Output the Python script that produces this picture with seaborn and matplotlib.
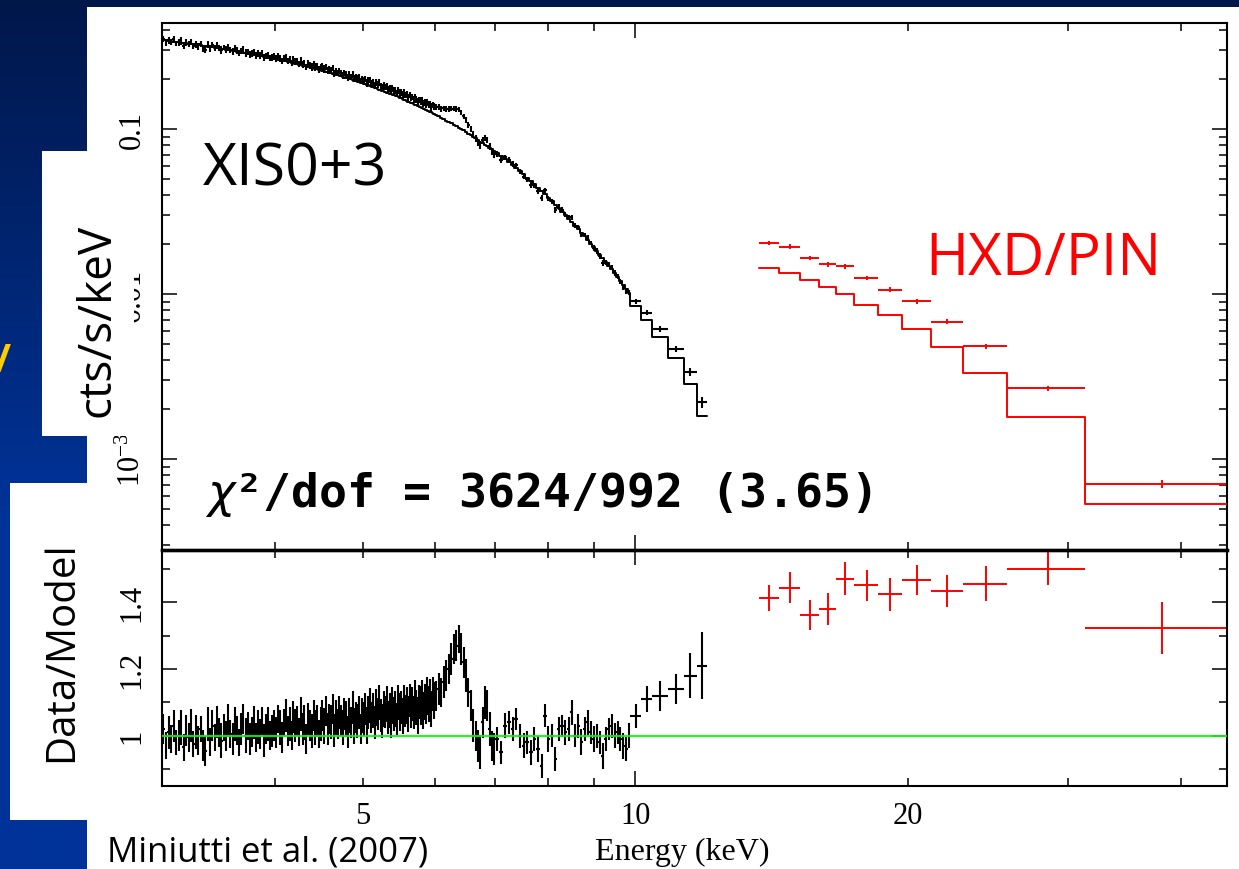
import numpy as np
import matplotlib
matplotlib.use("Agg")
import matplotlib.pyplot as plt
import seaborn as sns
from matplotlib.patches import Rectangle
from matplotlib.ticker import FixedLocator, FixedFormatter, FuncFormatter, NullFormatter

# ---------------------------------------------------------------- data
# XIS0+3 channel bin edges (keV)
xis_edges = [
    3.00, 3.02, 3.04, 3.06, 3.08, 3.10, 3.12, 3.14, 3.16, 3.18,
    3.20, 3.22, 3.24, 3.26, 3.28, 3.30, 3.32, 3.34, 3.36, 3.38,
    3.40, 3.42, 3.44, 3.46, 3.48, 3.50, 3.52, 3.54, 3.56, 3.58,
    3.60, 3.62, 3.64, 3.66, 3.68, 3.70, 3.72, 3.74, 3.76, 3.78,
    3.80, 3.82, 3.84, 3.86, 3.88, 3.90, 3.92, 3.94, 3.96, 3.98,
    4.00, 4.02, 4.04, 4.06, 4.08, 4.10, 4.12, 4.14, 4.16, 4.18,
    4.20, 4.22, 4.24, 4.26, 4.28, 4.30, 4.32, 4.34, 4.36, 4.38,
    4.40, 4.42, 4.44, 4.46, 4.48, 4.50, 4.52, 4.54, 4.56, 4.58,
    4.60, 4.62, 4.64, 4.66, 4.68, 4.70, 4.72, 4.74, 4.76, 4.78,
    4.80, 4.82, 4.84, 4.86, 4.88, 4.90, 4.92, 4.94, 4.96, 4.98,
    5.00, 5.02, 5.04, 5.06, 5.08, 5.10, 5.12, 5.14, 5.16, 5.18,
    5.20, 5.22, 5.24, 5.26, 5.28, 5.30, 5.32, 5.34, 5.36, 5.38,
    5.40, 5.42, 5.44, 5.46, 5.48, 5.50, 5.52, 5.54, 5.56, 5.58,
    5.60, 5.62, 5.64, 5.66, 5.68, 5.70, 5.72, 5.74, 5.76, 5.78,
    5.80, 5.82, 5.84, 5.86, 5.88, 5.90, 5.92, 5.94, 5.96, 5.98,
    6.00, 6.04, 6.08, 6.12, 6.16, 6.20, 6.24, 6.28, 6.32, 6.36,
    6.40, 6.44, 6.48, 6.52, 6.56, 6.60, 6.64, 6.68, 6.72, 6.76,
    6.80, 6.84, 6.88, 6.92, 6.96,
    7.00, 7.07, 7.14, 7.21, 7.28, 7.35, 7.42, 7.49, 7.56, 7.63,
    7.70, 7.77, 7.84, 7.91, 7.98, 8.05, 8.12, 8.19, 8.26, 8.33,
    8.40, 8.47, 8.54, 8.61, 8.68, 8.75, 8.82, 8.89, 8.96, 9.03,
    9.10, 9.17, 9.24, 9.31, 9.38, 9.45, 9.52, 9.59, 9.66, 9.73,
    9.80, 9.87, 10.15, 10.44, 10.85, 11.30, 11.70, 12.00,
]

# XIS0+3 folded model, log10(cts/s/keV), one per bin
xis_model_log = [
    -0.461, -0.463, -0.466, -0.468, -0.470, -0.472, -0.474, -0.477, -0.479, -0.481,
    -0.483, -0.485, -0.488, -0.490, -0.492, -0.494, -0.496, -0.499, -0.501, -0.503,
    -0.505, -0.507, -0.510, -0.512, -0.514,
    -0.516, -0.519, -0.521, -0.523, -0.526, -0.528, -0.531, -0.533, -0.535, -0.538,
    -0.540, -0.543, -0.545, -0.547, -0.550, -0.552, -0.555, -0.557, -0.559, -0.562,
    -0.564, -0.567, -0.569, -0.571, -0.574,
    -0.576, -0.579, -0.582, -0.585, -0.588, -0.590, -0.593, -0.596, -0.599, -0.602,
    -0.604, -0.607, -0.610, -0.613, -0.616, -0.618, -0.621, -0.624, -0.627, -0.630,
    -0.632, -0.635, -0.638, -0.641, -0.644,
    -0.647, -0.650, -0.653, -0.656, -0.659, -0.662, -0.666, -0.669, -0.672, -0.675,
    -0.678, -0.681, -0.685, -0.688, -0.691, -0.694, -0.697, -0.700, -0.704, -0.707,
    -0.710, -0.713, -0.716, -0.719, -0.722,
    -0.726, -0.729, -0.733, -0.736, -0.740, -0.743, -0.747, -0.750, -0.754, -0.757,
    -0.761, -0.765, -0.768, -0.772, -0.775, -0.779, -0.782, -0.786, -0.789, -0.793,
    -0.796, -0.800, -0.803, -0.807, -0.810,
    -0.814, -0.818, -0.822, -0.826, -0.830, -0.834, -0.838, -0.841, -0.845, -0.849,
    -0.853, -0.857, -0.861, -0.865, -0.869, -0.873, -0.877, -0.881, -0.885, -0.888,
    -0.892, -0.896, -0.900, -0.904, -0.908,
    -0.914, -0.923, -0.932, -0.940, -0.949, -0.958, -0.966, -0.975, -0.983, -0.992,
    -1.001, -1.009, -1.018, -1.028, -1.037, -1.047, -1.056, -1.066, -1.076, -1.085,
    -1.095, -1.104, -1.114, -1.124, -1.133,
    -1.147, -1.165, -1.184, -1.202, -1.220, -1.238, -1.256, -1.275, -1.296, -1.316,
    -1.336, -1.357, -1.377, -1.397, -1.418, -1.439, -1.460, -1.481, -1.502, -1.523,
    -1.544, -1.565, -1.586, -1.608, -1.630, -1.651, -1.673, -1.695, -1.717, -1.739,
    -1.761, -1.784, -1.806, -1.828, -1.851, -1.873, -1.897, -1.921, -1.944, -1.968,
    -1.992,
    -2.070, -2.158, -2.261, -2.388, -2.545, -2.739,
]

# XIS0+3 data / model ratio, one per bin
xis_ratio = [
    1.02, 0.97, 1.01, 0.99, 1.03, 0.98, 1.00, 1.025, 0.965, 1.015,
    0.995, 1.03, 0.975, 1.01, 0.985, 1.02, 0.97, 0.955, 1.035, 0.98,
    1.03, 0.995, 1.04, 1.01, 0.985, 1.025, 1.0, 1.045, 1.005, 0.99,
    1.035, 1.015, 0.98, 1.02, 1.05, 1.0, 1.03, 0.99, 1.01, 1.04,
    0.995, 1.025, 1.005, 1.045, 0.985, 1.02, 1.035, 1.0, 1.015, 1.03,
    1.01, 1.05, 1.025, 0.995, 1.04, 1.06, 1.015, 1.035, 1.0, 1.055,
    1.03, 1.045, 1.01, 1.065, 1.02, 1.04, 0.99, 1.05, 1.03, 1.015,
    1.06, 1.025, 1.045, 1.005, 1.035,
    1.06, 1.03, 1.075, 1.02, 1.05, 1.04, 1.08, 1.015, 1.055, 1.035,
    1.07, 1.045, 1.025, 1.065, 1.05, 1.01, 1.06, 1.04, 1.085, 1.03,
    1.055, 1.045, 1.07, 1.02, 1.06,
    1.05, 1.08, 1.03, 1.07, 1.09, 1.055, 1.075, 1.04, 1.085, 1.065,
    1.1, 1.06, 1.045, 1.08, 1.07, 1.095, 1.055, 1.075, 1.04, 1.09,
    1.065, 1.08, 1.05, 1.1, 1.07,
    1.085, 1.06, 1.1, 1.075, 1.09, 1.065, 1.105, 1.08, 1.095, 1.07,
    1.11, 1.085, 1.06, 1.1, 1.09, 1.115, 1.075, 1.1, 1.085, 1.12,
    1.095, 1.11, 1.08, 1.125, 1.105,
    1.12, 1.14, 1.13, 1.16, 1.18, 1.20, 1.23, 1.26, 1.27, 1.29,
    1.26, 1.22, 1.18, 1.13, 1.09, 1.03, 1.0, 0.97, 0.95, 1.04,
    1.10, 1.09, 1.02, 0.97, 0.96,
    0.99, 0.95, 1.03, 1.04, 1.02, 1.05, 1.0, 0.97, 0.98, 0.95,
    0.99, 0.96, 0.91, 1.06, 0.99, 1.0, 0.93, 1.02, 1.03, 1.01,
    1.02, 1.07, 1.0, 1.03, 0.98, 1.02, 1.04, 1.01, 0.99, 1.0,
    0.98, 0.94, 0.99, 1.02, 1.03, 1.0, 1.01, 0.99, 0.97, 0.96,
    1.0,
    1.06, 1.11, 1.12, 1.14, 1.18, 1.21,
]

# 1-sigma error on the XIS ratio, one per bin
xis_ratio_err = [
    0.045, 0.040, 0.050, 0.042, 0.048, 0.038, 0.046, 0.052, 0.041, 0.047,
    0.043, 0.049, 0.040, 0.051, 0.044, 0.039, 0.047, 0.045, 0.050, 0.042,
    0.046, 0.041, 0.048, 0.044, 0.052, 0.040, 0.045, 0.049, 0.043, 0.047,
    0.050, 0.044, 0.041, 0.048, 0.046, 0.053, 0.042, 0.047, 0.045, 0.049,
    0.044, 0.051, 0.046, 0.042, 0.049, 0.045, 0.050, 0.043, 0.048, 0.046,
    0.047, 0.043, 0.052, 0.046, 0.041, 0.049, 0.045, 0.051, 0.044, 0.048,
    0.049, 0.045, 0.042, 0.050, 0.047, 0.053, 0.044, 0.048, 0.046, 0.051,
    0.046, 0.052, 0.048, 0.043, 0.050, 0.047, 0.054, 0.045, 0.049, 0.044,
    0.051, 0.046, 0.049, 0.053, 0.045, 0.050, 0.047, 0.052, 0.048, 0.055,
    0.048, 0.053, 0.046, 0.050, 0.054, 0.047, 0.051, 0.049, 0.045, 0.052,
    0.050, 0.047, 0.055, 0.049, 0.052, 0.046, 0.053, 0.050, 0.056, 0.048,
    0.053, 0.049, 0.051, 0.055, 0.048, 0.054, 0.050, 0.052, 0.047, 0.056,
    0.051, 0.055, 0.049, 0.053, 0.057, 0.050, 0.054, 0.052, 0.048, 0.055,
    0.054, 0.050, 0.056, 0.052, 0.049, 0.057, 0.053, 0.055, 0.051, 0.058,
    0.052, 0.056, 0.054, 0.050, 0.057, 0.053, 0.059, 0.055, 0.051, 0.056,
    0.045, 0.047, 0.043, 0.048, 0.046, 0.044, 0.049, 0.045, 0.047, 0.043,
    0.048, 0.046, 0.050, 0.044, 0.047, 0.049, 0.045, 0.048, 0.051, 0.046,
    0.049, 0.047, 0.050, 0.045, 0.048,
    0.036, 0.034, 0.038, 0.035, 0.037, 0.033, 0.036, 0.038, 0.034, 0.037,
    0.035, 0.039, 0.036, 0.034, 0.038, 0.035, 0.037, 0.036, 0.033, 0.038,
    0.035, 0.037, 0.034, 0.036, 0.039, 0.035, 0.037, 0.034, 0.038, 0.036,
    0.035, 0.039, 0.037, 0.034, 0.036, 0.038, 0.035, 0.037, 0.039, 0.036,
    0.038,
    0.036, 0.040, 0.045, 0.045, 0.067, 0.100,
]

# HXD/PIN
pin_edges = [13.7, 14.42, 15.2, 15.94, 16.66, 17.45, 18.55, 19.67, 21.2, 23.0, 25.75, 31.35, 45.0]
pin_model = [0.01432, 0.01341, 0.01216, 0.01099, 0.0100, 0.00861, 0.00746,
             0.00614, 0.00475, 0.00331, 0.00179, 0.000533]
pin_ratio = [1.414, 1.444, 1.361, 1.381, 1.471, 1.451, 1.424, 1.467, 1.434, 1.456, 1.501, 1.324]
pin_ratio_err = [0.039, 0.046, 0.045, 0.048, 0.050, 0.046, 0.050, 0.046, 0.047, 0.052, 0.050, 0.078]

# ticks / labels
energy_major = [10]
energy_minor = [4, 5, 6, 7, 8, 9, 20, 30, 40]
energy_labels = {5: "5", 10: "10", 20: "20"}
flux_major = [1e-3, 1e-2, 1e-1]
flux_major_labels = [r"$\mathregular{10^{-3}}$", "0.01", "0.1"]
flux_minor_mult = [2, 3, 4, 5, 6, 7, 8, 9]
flux_decades = [1e-4, 1e-3, 1e-2, 1e-1]
ratio_major = [1.0, 1.2, 1.4]
ratio_major_labels = ["1", "1.2", "1.4"]
ratio_minor = [0.9, 1.1, 1.3, 1.5]

chi2_text = r"$\chi$²/dof = 3624/992 (3.65)"

assert len(xis_edges) - 1 == len(xis_model_log) == len(xis_ratio) == len(xis_ratio_err), (
    len(xis_edges), len(xis_model_log), len(xis_ratio), len(xis_ratio_err))

# ---------------------------------------------------------------- style
sns.set_theme(style="ticks")
plt.rcParams["font.family"] = ["Liberation Serif", "DejaVu Serif"]
plt.rcParams["mathtext.fontset"] = "dejavusans"
for k in ["axes.edgecolor", "xtick.color", "ytick.color", "text.color", "axes.labelcolor"]:
    plt.rcParams[k] = "black"

W, H = 1239, 870
fig = plt.figure(figsize=(W / 100, H / 100), dpi=100)

# slide background
bg = fig.add_axes([0, 0, 1, 1], zorder=-10)
top_c = np.array([0.0, 0.09, 0.29])
bot_c = np.array([0.0, 0.20, 0.60])
fac = np.clip(np.arange(H) / 520.0, 0, 1)[:, None]
grad = (top_c + (bot_c - top_c) * fac)[:, None, :]
bg.imshow(grad, extent=[0, W, H, 0], aspect="auto", interpolation="bilinear")
bg.add_patch(Rectangle((87, 8), W - 87, H - 8, color="white", lw=0))
bg.add_patch(Rectangle((10, 484), 90, 337, color="white", lw=0))
bg.set_xlim(0, W)
bg.set_ylim(H, 0)
bg.axis("off")


def box(l, t, r, b):
    return [l / W, 1 - b / H, (r - l) / W, (b - t) / H]


ax1 = fig.add_axes(box(162, 24, 1227, 551))
ax2 = fig.add_axes(box(162, 551, 1227, 787))
for ax in (ax1, ax2):
    ax.set_facecolor("none")
    ax.set_xscale("log")
    ax.set_xlim(3.0, 45.0)
ax1.set_yscale("log")
ax1.set_ylim(2.81e-4, 0.4388)
ax2.set_ylim(0.849, 1.557)

# derived arrays
xe = np.array(xis_edges)
x_c = 0.5 * (xe[:-1] + xe[1:])
x_hw = 0.5 * (xe[1:] - xe[:-1])
x_mod = 10 ** np.array(xis_model_log)
x_rat = np.array(xis_ratio)
x_err = np.array(xis_ratio_err)

pe = np.array(pin_edges)
p_c = 0.5 * (pe[:-1] + pe[1:])
p_hw = 0.5 * (pe[1:] - pe[:-1])
p_mod = np.array(pin_model)
p_rat = np.array(pin_ratio)
p_err = np.array(pin_ratio_err)

BLK_LW = 1.5
RED_LW = 1.4

# ---- top panel: spectra + model steps
ax1.errorbar(x_c, x_mod * x_rat, xerr=x_hw, yerr=x_mod * x_err, fmt="none",
             ecolor="black", elinewidth=BLK_LW, capsize=0, zorder=2)
sns.lineplot(x=xe, y=np.append(x_mod, x_mod[-1]), drawstyle="steps-post",
             estimator=None, sort=False, color="black", lw=1.4, ax=ax1, zorder=3)
ax1.errorbar(p_c, p_mod * p_rat, xerr=p_hw, yerr=p_mod * p_err, fmt="none",
             ecolor="red", elinewidth=RED_LW, capsize=0, zorder=2)
sns.lineplot(x=pe, y=np.append(p_mod, p_mod[-1]), drawstyle="steps-post",
             estimator=None, sort=False, color="red", lw=1.4, ax=ax1, zorder=3)

# ---- bottom panel: ratio
ax2.errorbar(x_c, x_rat, xerr=x_hw, yerr=x_err, fmt="none",
             ecolor="black", elinewidth=BLK_LW, capsize=0, zorder=2)
ax2.errorbar(p_c, p_rat, xerr=p_hw, yerr=p_err, fmt="none",
             ecolor="red", elinewidth=RED_LW, capsize=0, zorder=2)
ax2.axhline(1.0, color="#00ff00", lw=1.3, zorder=4)

# ---- ticks
for ax in (ax1, ax2):
    ax.xaxis.set_major_locator(FixedLocator(energy_major))
    ax.xaxis.set_minor_locator(FixedLocator(energy_minor))
    ax.tick_params(axis="both", which="both", direction="in", top=True, right=True,
                   width=1.1, colors="black", labelsize=22, pad=11)
    ax.tick_params(axis="both", which="major", length=11)
    ax.tick_params(axis="both", which="minor", length=6)
    for sp in ax.spines.values():
        sp.set_linewidth(1.5)
        sp.set_color("black")

ax1.xaxis.set_major_formatter(NullFormatter())
ax1.xaxis.set_minor_formatter(NullFormatter())
lab_fmt = FuncFormatter(lambda v, p: energy_labels.get(int(round(v)), ""))
ax2.xaxis.set_major_formatter(lab_fmt)
ax2.xaxis.set_minor_formatter(lab_fmt)

ax1.yaxis.set_major_locator(FixedLocator(flux_major))
ax1.yaxis.set_major_formatter(FixedFormatter(flux_major_labels))
ax1.yaxis.set_minor_locator(FixedLocator([d * m for d in flux_decades for m in flux_minor_mult]))
ax1.yaxis.set_minor_formatter(NullFormatter())

ax2.yaxis.set_major_locator(FixedLocator(ratio_major))
ax2.yaxis.set_major_formatter(FixedFormatter(ratio_major_labels))
ax2.yaxis.set_minor_locator(FixedLocator(ratio_minor))
ax2.yaxis.set_minor_formatter(NullFormatter())

for ax in (ax1, ax2):
    ax.tick_params(axis="y", labelrotation=90)
    for t in ax.yaxis.get_major_ticks():
        t.label1.set_verticalalignment("center")

ax1.spines["bottom"].set_linewidth(2.4)
ax2.spines["top"].set_linewidth(2.4)

ax2.set_xlabel("Energy (keV)", fontsize=23, va="top")
ax2.xaxis.set_label_coords((682 - 162) / 1065, (787 - 838) / 236)

# ---- overlay annotations (slide text boxes)
ov = fig.add_axes([0, 0, 1, 1], zorder=10)
ov.set_xlim(0, W)
ov.set_ylim(H, 0)
ov.axis("off")
ov.patch.set_visible(False)
ov.add_patch(Rectangle((42, 152), 92, 285, color="white", lw=0))
ov.text(110, 320, "cts/s/keV", rotation=90, rotation_mode="anchor", ha="center",
        va="baseline", fontsize=33, family="Open Sans", color="black")
ov.text(72, 652, "Data/Model", rotation=90, rotation_mode="anchor", ha="center",
        va="baseline", fontsize=29, family="Open Sans", color="black")
ov.text(203, 185, "XIS0+3", fontsize=42.5, family="Open Sans", ha="left",
        va="baseline", color="black")
ov.text(925, 275, "HXD/PIN", fontsize=42, family="Open Sans", ha="left",
        va="baseline", color="red")
ov.text(205, 507, chi2_text, fontsize=33.5, family="DejaVu Sans Mono",
        fontweight="bold", ha="left", va="baseline", color="black")
ov.text(107, 862, "Miniutti et al. (2007)", fontsize=25, family="Open Sans",
        ha="left", va="baseline", color="black")
ov.text(3, 362, "/", fontsize=28, family="Open Sans", fontweight="bold",
        ha="center", va="center", color="#FFCC00")

fig.savefig("out.png", dpi=100)
